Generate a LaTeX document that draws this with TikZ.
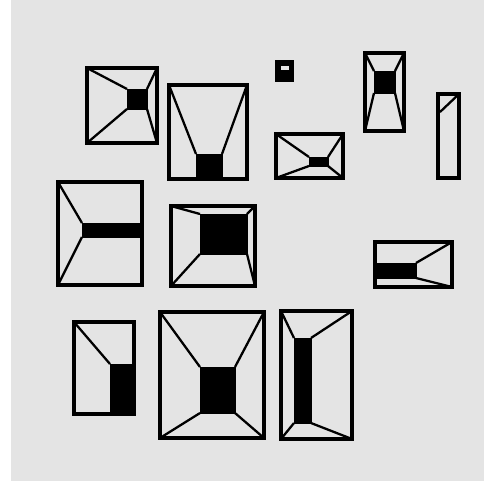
\documentclass[tikz,border=0pt]{standalone}
\usepackage{tikz}
\definecolor{wallgray}{gray}{0.895}
\begin{document}
\begin{tikzpicture}[x=0.02cm, y=-0.02cm,
    wall/.style={draw=black, line width=2.1pt},
    core/.style={fill=black, draw=black, line width=0.5pt},
    edge/.style={draw=black, line width=1.3pt}]
  \useasboundingbox (0,0) rectangle (484,481);
  \fill[white] (0,0) rectangle (484,481);
  \fill[wallgray] (11,0) rectangle (484,481);
  % top row
  \fill[core] (127,89) rectangle (147,109);
  \draw[edge] (87,68)--(127,89) (157,68)--(147,89) (87,143)--(127,109) (157,143)--(147,109);
  \draw[wall] (87,68) rectangle (157,143);
  \fill[core] (196,154) rectangle (222,179);
  \draw[edge] (169,85)--(196,154) (247,85)--(222,154);
  \draw[wall] (169,85) rectangle (247,179);
  \fill[core] (277,62) rectangle (292,80);
  \fill[wallgray] (281,66) rectangle (289,70);
  \draw[wall] (277,62) rectangle (292,80);
  \fill[core] (374,71) rectangle (395,93);
  \draw[edge] (365,53)--(374,71) (404,53)--(395,71) (365,131)--(374,93) (404,131)--(395,93);
  \draw[wall] (365,53) rectangle (404,131);
  \draw[edge] (459,94)--(440,112);
  \draw[wall] (438,94) rectangle (459,178);
  \fill[core] (309,157) rectangle (328,166);
  \draw[edge] (276,134)--(309,157) (343,134)--(328,157) (276,178)--(309,166) (343,178)--(328,166);
  \draw[wall] (276,134) rectangle (343,178);
  % middle row
  \fill[core] (82,223) rectangle (142,237);
  \draw[edge] (58,182)--(82,223) (58,285)--(82,237);
  \draw[wall] (58,182) rectangle (142,285);
  \fill[core] (200,214) rectangle (247,254);
  \draw[edge] (171,206)--(200,214) (255,206)--(247,214) (171,286)--(200,254) (255,286)--(247,254);
  \draw[wall] (171,206) rectangle (255,286);
  \fill[core] (375,263) rectangle (416,278);
  \draw[edge] (452,242)--(416,263) (452,287)--(416,278);
  \draw[wall] (375,242) rectangle (452,287);
  % bottom row
  \fill[core] (110,364) rectangle (134,414);
  \draw[edge] (74,322)--(110,364);
  \draw[wall] (74,322) rectangle (134,414);
  \fill[core] (200,367) rectangle (235,413);
  \draw[edge] (160,312)--(200,367) (264,312)--(235,367) (160,438)--(200,413) (264,438)--(235,413);
  \draw[wall] (160,312) rectangle (264,438);
  \fill[core] (294,338) rectangle (311,423);
  \draw[edge] (281,311)--(294,338) (352,311)--(311,338) (281,439)--(294,423) (352,439)--(311,423);
  \draw[wall] (281,311) rectangle (352,439);
\end{tikzpicture}
\end{document}
